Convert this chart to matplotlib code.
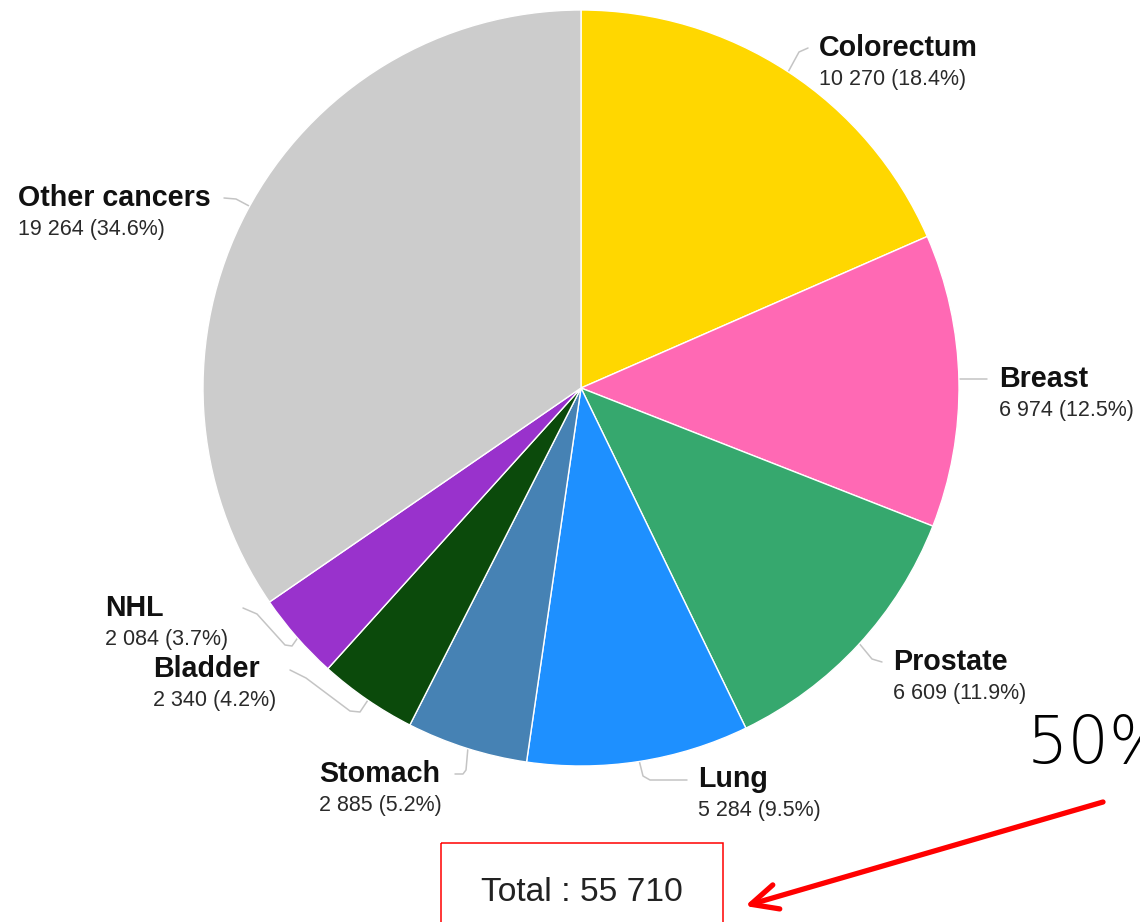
import matplotlib
matplotlib.use("Agg")
import matplotlib.pyplot as plt
from matplotlib.patches import Rectangle
from matplotlib import font_manager

plt.rcParams["font.family"] = ["Liberation Sans", "DejaVu Sans"]

# Cancer cases by site
sites = ["Colorectum", "Breast", "Prostate", "Lung", "Stomach", "Bladder", "NHL", "Other cancers"]
cases = [10270, 6974, 6609, 5284, 2885, 2340, 2084, 19264]
shares = [18.4, 12.5, 11.9, 9.5, 5.2, 4.2, 3.7, 34.6]
colors = ["#FFD700", "#FF69B4", "#36A86E", "#1E90FF", "#4682B4", "#0B4A0B", "#9932CC", "#CCCCCC"]
total = sum(cases)


def fmt_thousands(n):
    return f"{n:,}".replace(",", " ")


W, H = 1140, 922
fig = plt.figure(figsize=(W / 100, H / 100), dpi=100)
ax = fig.add_axes([0, 0, 1, 1])

# Pie: y axis runs downward, so startangle=-90 with counterclock=True
# puts the first wedge at 12 o'clock going clockwise on screen.
center = (581, 388)
radius = 378
ax.pie(cases, colors=colors, startangle=-90, counterclock=True,
       center=center, radius=radius,
       wedgeprops=dict(edgecolor="white", linewidth=1.0))

ax.set_xlim(0, W)
ax.set_ylim(H, 0)
ax.set_aspect("equal")
ax.axis("off")

# Label anchor (left x, name baseline) and leader-line paths
label_pos = {
    "Colorectum": (819, 56),
    "Breast": (999, 387),
    "Prostate": (893, 670),
    "Lung": (698, 787),
    "Stomach": (319, 782),
    "Bladder": (153, 677),
    "NHL": (105, 616),
    "Other cancers": (18, 206),
}
leaders = {
    "Colorectum": [(787, 74), (799, 52), (808, 48)],
    "Breast": [(957, 379), (987, 379)],
    "Prostate": [(858, 642), (872, 659), (882, 662)],
    "Lung": [(639, 760), (643, 776), (650, 780), (687, 780)],
    "Stomach": [(468, 747), (466, 770), (463, 774), (455, 774)],
    "Bladder": [(290, 670), (306, 678), (350, 711), (360, 712), (368, 700)],
    "NHL": [(243, 608), (257, 614), (285, 645), (292, 646), (299, 636)],
    "Other cancers": [(224, 198), (236, 199), (251, 207)],
}

for site, n, pct in zip(sites, cases, shares):
    x, y = label_pos[site]
    ax.text(x, y, site, fontsize=20.6, fontweight="bold", color="#111111",
            ha="left", va="baseline")
    ax.text(x, y + 29, f"{fmt_thousands(n)} ({pct}%)", fontsize=15.5,
            color="#2a2a2a", ha="left", va="baseline")
    xs, ys = zip(*leaders[site])
    ax.plot(xs, ys, color="#c4c4c4", lw=1.1, solid_capstyle="round",
            solid_joinstyle="round", zorder=0)

# Total box
ax.add_patch(Rectangle((441, 843), 282, 100, fill=False, edgecolor="red",
                       lw=1.1, clip_on=False))
ax.text(582, 892, f"Total : {fmt_thousands(total)}", fontsize=24.2,
        color="#222222", ha="center", va="center")

# Callout in a light face when one is installed
light_families = ["DejaVu Sans"]
light_weight = "normal"
for fam in ["DejaVu Sans", "Open Sans", "Noto Sans", "Lato", "Roboto"]:
    try:
        fp = font_manager.FontProperties(family=fam, weight=200)
        path = font_manager.findfont(fp, fallback_to_default=False)
        f = font_manager.get_font(path)
        if fam.split()[0].lower() in path.lower() and f.style_name.lower() in (
                "extralight", "light", "thin", "extra light"):
            light_families = [fam]
            light_weight = 200
            break
    except Exception:
        pass

ax.text(1027, 763, "50%", fontsize=47, fontweight=light_weight,
        family=light_families, color="black", ha="left", va="baseline",
        clip_on=False)
ax.annotate("", xy=(745, 906), xytext=(1103, 802),
            arrowprops=dict(arrowstyle="->,head_length=0.95,head_width=0.45",
                            mutation_scale=20, lw=3.8, color="red",
                            shrinkA=0, shrinkB=0))

fig.savefig("out.png", dpi=100)
